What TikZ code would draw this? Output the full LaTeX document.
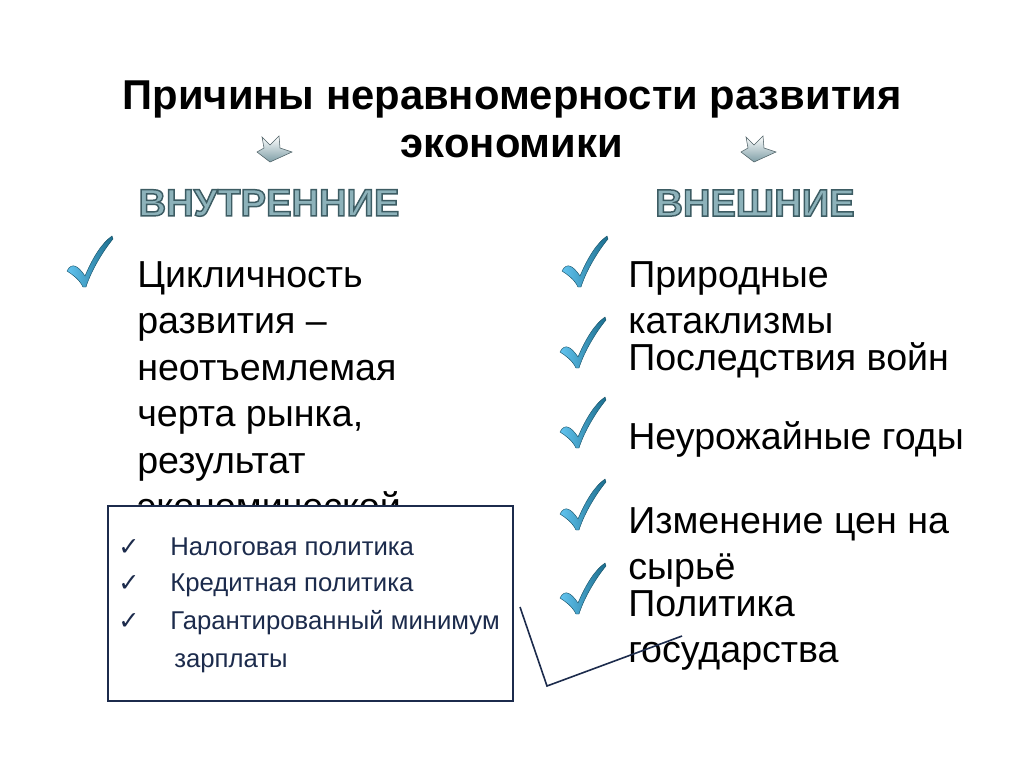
\documentclass[tikz,border=0pt]{standalone}
\usepackage{fontspec}
\setmainfont{Liberation Sans}
\newfontfamily\symfont{DejaVu Sans}
\newcommand{\outlinetext}[1]{\special{pdf:literal 2 Tr 1.1 w 0.239 0.361 0.388 RG}#1\special{pdf:literal 0 Tr}}
\begin{document}
\begin{tikzpicture}[x=0.75pt,y=-0.75pt,
  body/.style={anchor=north west,inner sep=0pt,align=left,font=\fontsize{28.2}{34.9}\selectfont},
  boxtext/.style={anchor=west,inner sep=0pt,text=navy,text height=1.5ex,text depth=0.25ex,font=\fontsize{19.3}{22}\selectfont},
  boxtick/.style={anchor=west,inner sep=0pt,text=navy,text height=1.5ex,text depth=0.25ex,font=\symfont\fontsize{19}{20}\selectfont},
  head/.style={inner sep=0pt,font=\bfseries\fontsize{28.6}{28.6}\selectfont},
  tick/.pic={
    \shade[left color=tickA,right color=tickB,draw=tickB!70!black,line width=0.3pt]
      (-18,-14) .. controls (-13,-24) and (-6,-18) .. (0,-9)
      .. controls (8,-28) and (17,-42) .. (27,-49)
      -- (28,-46) .. controls (18,-34) and (6,-14) .. (1,2)
      -- (-2,2) .. controls (-6,-6) and (-12,-10) .. (-18,-14) -- cycle;
  },
  chev/.pic={
    \shade[top color=white,bottom color=chevB,draw=chevB!60!black,line width=0.4pt]
      (-8,-13) -- (0,-5) -- (9,-14) -- (10,-2) -- (22,2) -- (0,12) -- (-13,2) -- (-6,-2) -- cycle;
  }
]
\definecolor{navy}{HTML}{1C2B4C}
\definecolor{tickA}{HTML}{62C4F0}
\definecolor{tickB}{HTML}{1B6E8E}
\definecolor{chevB}{HTML}{7E9EA6}
\definecolor{embA}{HTML}{8DB2BA}
\definecolor{embB}{HTML}{3D5C63}
\useasboundingbox (0,0) rectangle (1024,767);
\fill[white] (0,0) rectangle (1024,767);

% title
\node[head,align=center,font=\bfseries\fontsize{31.3}{36}\selectfont] (title) at (512,119)
  {Причины неравномерности развития\\экономики};

% chevrons
\pic at (270,150) {chev};
\pic at (754,150) {chev};

% headings (light face, dark outline)
\node[head,text=embA] (inner) at (269,203) {\outlinetext{ВНУТРЕННИЕ}};
\node[head,text=embA] (outer) at (755,203) {\outlinetext{ВНЕШНИЕ}};

% left column
\pic at (85,285) {tick};
\node[body] (lefttext) at (137,261)
  {Цикличность\\развития –\\неотъемлемая\\черта рынка,\\результат\\экономической};

% right column
\pic at (580,285) {tick};
\pic at (578,366) {tick};
\pic at (578,446) {tick};
\pic at (578,528) {tick};
\pic at (578,612) {tick};
\node[body] (r1) at (628,261) {Природные\\катаклизмы};
\node[body] (r2) at (628,342) {Последствия войн};
\node[body] (r3) at (628,421) {Неурожайные годы};
\node[body] (r4) at (628,507) {Изменение цен на\\сырьё};
\node[body] (r5) at (628,590) {Политика\\государства};

% box
\node[draw=navy,fill=white,line width=1.2pt,minimum width=303.75pt,minimum height=146.25pt,anchor=north west,inner sep=0pt] (box) at (107,505) {};
\node[boxtick] (c1) at (118,551) {✓};
\node[boxtick] (c2) at (118,587) {✓};
\node[boxtick] (c3) at (118,625) {✓};
\node[boxtext] (b1) at (170,551) {Налоговая политика};
\node[boxtext] (b2) at (170,587) {Кредитная политика};
\node[boxtext] (b3) at (170,625) {Гарантированный минимум};
\node[boxtext] (b4) at (174,663) {зарплаты};

% connector
\coordinate (p1) at (520,607);
\coordinate (p2) at (547,686);
\coordinate (p3) at (682,636);
\draw[navy,line width=1.2pt] (p1) -- (p2) -- (p3);
\end{tikzpicture}
\end{document}
